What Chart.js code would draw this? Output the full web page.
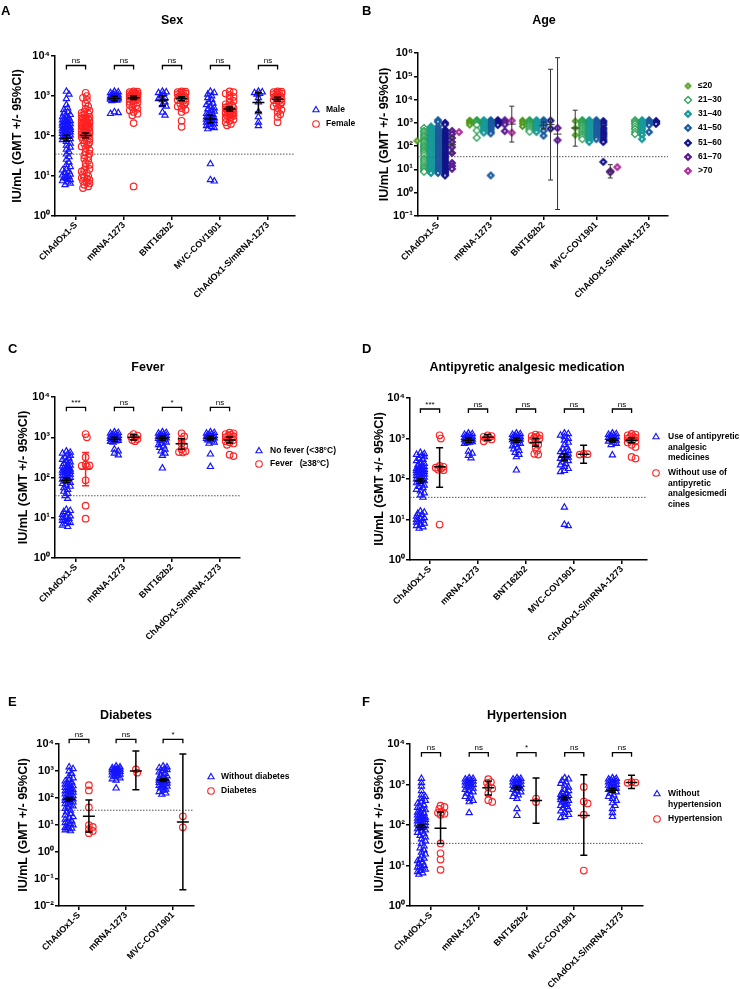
<!DOCTYPE html>
<html><head><meta charset="utf-8">
<script src="https://cdn.jsdelivr.net/npm/chart.js@4.4.1/dist/chart.umd.min.js"></script>
<style>
html,body{margin:0;padding:0;background:#fff;}
#wrap{position:relative;width:740px;height:989px;overflow:hidden;background:#fff;}
canvas{position:absolute;}
.lt{position:absolute;font:bold 13px 'Liberation Sans',Arial,sans-serif;color:#000;line-height:13px;}
</style></head><body><div id="wrap">
<canvas id="cA" width="370" height="300" style="left:0;top:0"></canvas>
<canvas id="cB" width="370" height="300" style="left:370px;top:0"></canvas>
<canvas id="cC" width="370" height="340" style="left:0;top:300px"></canvas>
<canvas id="cD" width="370" height="340" style="left:370px;top:300px"></canvas>
<canvas id="cE" width="370" height="349" style="left:0;top:640px"></canvas>
<canvas id="cF" width="370" height="349" style="left:370px;top:640px"></canvas>
<div class="lt" style="left:1px;top:4px">A</div>
<div class="lt" style="left:362px;top:4px">B</div>
<div class="lt" style="left:8px;top:342px">C</div>
<div class="lt" style="left:362px;top:342px">D</div>
<div class="lt" style="left:8px;top:695px">E</div>
<div class="lt" style="left:362px;top:695px">F</div>
</div>
<script>
// ---------------- DATA ----------------
const vaccines = ['ChAdOx1-S','mRNA-1273','BNT162b2','MVC-COV1901','ChAdOx1-S/mRNA-1273'];
const vaccinesFever = ['ChAdOx1-S','mRNA-1273','BNT162b2','ChAdOx1-S/mRNA-1273'];
const vaccinesDiabetes = ['ChAdOx1-S','mRNA-1273','MVC-COV1901'];
const threshold = 35.2;

// A: Sex
const sexLabels = ['Male','Female'];
const maleIU = [
 [1300,1100,850,600,500,450,400,370,340,320,300,280,260,250,240,230,220,210,200,195,190,185,180,175,170,165,160,155,150,145,140,135,130,125,120,115,110,105,100,95,90,85,80,72,65,58,52,46,40,35,30,26,22,19,17,15,14,13,12,11,10.5,10,9.5,9,8.5,8,7.5,7,6.5,6],
 [1300,1250,1200,1150,1100,1050,1000,980,950,920,900,880,860,840,820,800,780,760,400,380,360],
 [1300,1250,1200,1150,1000,900,850,800,700,600,550,390,330],
 [1300,1200,1100,1000,900,800,700,650,600,550,500,470,440,410,380,360,340,320,300,290,280,270,260,250,240,230,220,210,200,190,180,170,160,150,20,8,7.4],
 [1300,1250,1200,1150,1100,900,700,400,300,220,180]
];
const maleGMT = [[88,75,105],[860,750,980],[800,570,1000],[265,215,330],[690,390,1200]];
const femaleIU = [
 [1200,1000,900,800,650,550,480,430,400,380,360,340,320,300,290,280,270,260,250,240,230,220,215,210,205,200,195,190,185,180,175,170,165,160,155,150,145,140,135,130,125,120,115,110,105,100,95,90,85,80,75,70,65,60,55,50,45,40,36,33,30,27,24,21,19,17,15,14,13,12,11,10,9.5,9,8.5,8,7.5,7,6.5,6,5.5,5],
 [1300,1280,1250,1200,1180,1150,1120,1100,1080,1050,1020,1000,980,950,920,900,870,840,800,760,720,680,640,600,560,520,480,440,400,360,330,210,5.5],
 [1300,1280,1250,1220,1200,1150,1100,1050,1000,950,900,850,800,750,700,650,600,550,500,450,400,240,170],
 [1300,1250,1150,1050,950,850,750,680,620,580,550,520,500,480,460,440,420,400,390,380,370,360,350,340,330,320,300,280,260,240,220,200,185],
 [1300,1280,1250,1220,1200,1150,1100,1050,1000,950,900,850,800,750,700,650,600,550,500,450,400,350,300,220]
];
const femaleGMT = [[103,90,118],[910,820,1000],[860,760,960],[470,420,530],[830,740,930]];
const sigSex = ['ns','ns','ns','ns','ns'];

// B: Age
const ageGroups = ['≤20','21–30','31–40','41–50','51–60','61–70','>70'];
const ageIU = [
 [[250,220,200,190,180,170],[1300,1200,1100,1000,900,800],[1300,1100,900,700],[1200,600,300],[]],
 [[600,450,380,300,250,200,170,150,120,100,85,70,60,50,40,30,25,20,16,13,11,9,8],[1300,1200,1100,1000,900,800,470,230],[1300,1200,1100,1000,900,800,700,600,500,420],[1300,1200,1100,1000,900,800,700,600,500,420,350,300,250,200],[1300,1100,900,700,550,420,330]],
 [[700,600,500,420,350,300,260,220,190,160,140,120,100,85,70,60,50,40,33,28,24,20,17,15,13,11,9.5,8.5,7.5,7],[1300,1200,1100,1000,900,800,700,600,500,420,380],[1300,1200,1100,1000,900,800,700,600,500,400],[1300,1200,1100,1000,900,800,700,600,500,420,350,300,250,200,170,150],[1300,1200,1100,1000,900,800,700,600,500,400,300,200]],
 [[1300,1100,700,550,450,380,320,270,230,200,170,150,130,110,95,80,70,60,50,40,35,30,25,20,17,15,13,11,10,9,8,7],[1300,1200,1100,1000,900,800,700,600,500,400,350,5.5],[1300,1200,1000,900,700,450,280],[1300,1200,1100,1000,900,800,700,600,500,420,350,300,250,200],[1300,1200,1100,1000,900,800,400]],
 [[1000,850,500,420,350,300,260,220,190,160,140,120,100,85,70,60,50,42,35,30,25,21,18,15,13,11,10,9,8,7,6,5.5],[1300,1200,1100,1000,900,800],[1250,560],[1200,1000,800,600,500,400,350,300,250,200,170,150,21],[1200,1100,1000,900]],
 [[450,330,225,150,90,51,19,14,10.5],[1300,1100,850,440],[600,180],[8.5,7.5],[]],
 [[400],[1250,380],[],[12.5],[]]
];
const ageGMT = [
 [null,null,null,[600,100,3500],null],
 [null,null,null,null,null],
 [null,null,null,null,null],
 [null,null,[780,560,1100],null,null],
 [null,null,[840,3.5,200000],null,null],
 [[115,50,260],null,[330,0.19,630000],[8,4.3,16],null],
 [null,[880,150,5200],null,null,null]
];

// C: Fever
const feverLabels = ['No fever (<38°C)','Fever   (≥38°C)'];
const noFeverIU = [
 [450,420,400,380,350,320,300,280,260,240,220,210,200,190,180,175,170,165,160,155,150,145,140,135,130,125,120,115,110,105,100,95,90,85,80,75,70,65,60,55,50,45,40,35,30,16,15,14,13,12,11,10.5,10,9.5,9,8.5,8,7.5,7,6.5,6],
 [1350,1300,1250,1200,1150,1100,1050,1000,980,950,920,900,880,850,820,800,780,750,500,450,400,360],
 [1350,1300,1250,1200,1150,1100,1050,1000,980,950,920,900,880,850,800,750,700,650,600,550,500,450,400,350,170],
 [1350,1300,1250,1200,1150,1100,1050,1000,980,950,920,900,880,850,800,750,700,380,185]
];
const noFeverGMT = [[86,75,98],[890,780,1000],[950,840,1070],[950,850,1060]];
const feverIU = [[1200,1000,320,210,200,195,190,85,20,9.5],[1200,1100,1050,1000,900,850,800],[1250,1050,900,700,600,500,450,430,420],[1300,1250,1200,1150,1100,1050,1000,950,900,850,800,750,700,650,370,340]];
const feverGMT = [[160,62,420],[1000,850,1150],[690,500,920],[860,720,1010]];
const sigFever = ['***','ns','*','ns'];

// D: Antipyretic analgesic medication
const medLabels = ['Use of antipyretic analgesic medicines','Without use of antipyretic analgesicmedicines'];
const medLegendLines = [['Use of antipyretic','analgesic','medicines'],['Without use of','antipyretic','analgesicmedi','cines']];
const useMedIU = [
 [450,420,400,380,350,320,300,280,260,240,220,210,200,190,180,175,170,165,160,155,150,145,140,135,130,125,120,115,110,105,100,95,90,85,80,75,70,65,60,55,50,45,40,35,16,15,14,13,12,11,10.5,10,9.5,9,8.5,8,7.5,7,6.5,6],
 [1350,1300,1250,1200,1150,1100,1050,1000,980,950,920,900,880,850,820,800,780,750,480,430,380,330],
 [1350,1300,1250,1200,1150,1100,1050,1000,980,950,920,900,880,850,800,750,700,650,600,550,500,450,400,350,165],
 [1350,1300,1200,1100,1000,900,800,700,600,550,500,470,440,410,380,360,340,320,300,280,260,240,220,200,180,160,150,20,7.5,7],
 [1350,1300,1250,1200,1150,1100,1050,1000,950,900,850,800,750,700,390]
];
const useMedGMT = [[89,78,102],[910,800,1030],[910,810,1020],[350,290,420],[910,820,1000]];
const noMedIU = [[1200,1000,210,200,190,180,170,165,7.5],[1200,1150,1100,1050,1000,950,850],[1250,1200,1150,1100,1050,1000,900,800,700,600,500,420,400],[420,410,400],[1300,1250,1200,1150,1100,1050,1000,950,900,850,800,700,620,350,320]];
const noMedGMT = [[200,63,590],[1080,900,1250],[800,640,1000],[410,245,680],[910,790,1040]];
const sigMed = ['***','ns','ns','ns','ns'];

// E: Diabetes
const diabLabels = ['Without diabetes','Diabetes'];
const noDiabIU = [
 [1400,1200,1000,800,650,550,480,420,380,350,320,300,280,260,240,220,200,190,180,170,160,150,140,130,120,110,100,95,90,85,80,75,70,65,60,55,50,45,40,35,30,26,23,20,18,16,14,13,12,11,10,9,8,7.5,7,6.5,6],
 [1500,1400,1300,1250,1200,1150,1100,1050,1000,950,900,850,800,750,700,650,600,550,500,450,230],
 [1500,1400,1300,1200,1100,1000,900,800,700,650,600,550,500,470,450,430,410,390,370,350,330,310,290,270,250,230,210,190,170,150,135]
];
const noDiabGMT = [[90,78,104],null,[460,410,520]];
const diabIU = [[300,190,45,10,8.5,7,6,5],[1150,870],[21,8.2]];
const diabGMT = [[21,5.5,85],[1000,200,5500],[13,0.04,4300]];
const sigDiab = ['ns','ns','*'];

// F: Hypertension
const hypLabels = ['Without hypertension','Hypertension'];
const hypLegendLines = [['Without','hypertension'],['Hypertension']];
const noHypIU = [
 [1400,1100,900,700,550,500,450,400,370,340,310,290,270,250,235,220,205,195,185,175,165,155,150,145,140,135,130,125,120,115,110,105,100,95,90,85,80,75,70,65,60,55,50,45,40,35,30,27,24,21,19,17,15,14,13,12,11,10,9.5,9,8.5,8,7.5,7,6.5,6],
 [1450,1400,1350,1300,1250,1200,1150,1100,1050,1000,950,900,850,800,750,700,650,600,550,500,450,400,370,200],
 [1450,1400,1350,1300,1250,1200,1150,1100,1050,1000,950,900,850,800,750,700,650,600,550,500,450,250,170],
 [1450,1350,1250,1150,1050,950,850,750,700,650,600,560,530,500,480,460,440,420,400,380,360,340,320,300,280,260,240,220,200,180,160,150],
 [1450,1400,1350,1300,1250,1200,1150,1100,1050,1000,950,900,850,800,750,700,650,600,550,500,450,400,350,300,250,200,160]
];
const noHypGMT = [[88,77,100],null,[830,740,930],[470,420,530],[720,640,810]];
const hypIU = [[300,280,250,210,200,190,180,35,20,14,7.8],[1350,1150,1100,870,800,600,410,370],[450,370],[870,380,340,180,7.5],[1150,1120,1100]];
const hypGMT = [[83,35,210],[830,550,1200],[400,110,1450],[172,18,1750],[1120,800,1700]];
const sigHyp = ['ns','ns','*','ns','ns'];

// ---------------- STYLE / HELPERS ----------------
const FONT = "'Liberation Sans', Arial, Helvetica, sans-serif";
Chart.defaults.font.family = FONT;
Chart.defaults.color = '#000';
const BLUE = '#1414ff', RED = '#ff2222';
const ageColors = ['#4f9a1c','#1c9a4a','#1a9a9a','#1d5b9e','#14148a','#5a1c90','#b0309c'];

function supPow(v){
  const e = Math.round(Math.log10(v));
  const m = {'-':'⁻','0':'⁰','1':'¹','2':'²','3':'³','4':'⁴','5':'⁵','6':'⁶','7':'⁷','8':'⁸','9':'⁹'};
  return '10' + String(e).split('').map(c => m[c]).join('');
}
function diamondImg(color, hollow, r){
  const s = 2*r + 3, c = document.createElement('canvas');
  c.width = s; c.height = s;
  const g = c.getContext('2d'), m = s/2;
  g.beginPath(); g.moveTo(m, m-r); g.lineTo(m+r, m); g.lineTo(m, m+r); g.lineTo(m-r, m); g.closePath();
  g.fillStyle = hollow ? '#fff' : color; g.fill();
  g.lineWidth = 1.2; g.strokeStyle = color; g.stroke();
  if (!hollow) { g.beginPath(); g.arc(m, m, r*0.3, 0, Math.PI*2); g.fillStyle = 'rgba(255,255,255,0.8)'; g.fill(); }
  return c;
}
function drawMarker(ctx, s, x, y){
  ctx.save();
  if (typeof s.style === 'object') { ctx.drawImage(s.style, x - s.style.width/2, y - s.style.height/2); ctx.restore(); return; }
  ctx.strokeStyle = s.color; ctx.lineWidth = 1.1;
  ctx.beginPath();
  const r = s.radius;
  if (s.style === 'circle') ctx.arc(x, y, r, 0, Math.PI*2);
  else { ctx.moveTo(x, y - r); ctx.lineTo(x + r*0.866, y + r/2); ctx.lineTo(x - r*0.866, y + r/2); ctx.closePath(); }
  ctx.stroke(); ctx.restore();
}

function decoPlugin(p){
  return {
    id: 'deco',
    beforeDatasetsDraw(chart){
      const {ctx, chartArea: a, scales: {y}} = chart;
      const py = y.getPixelForValue(threshold);
      ctx.save(); ctx.strokeStyle = '#555'; ctx.lineWidth = 1; ctx.setLineDash([1.5, 1.5]);
      ctx.beginPath(); ctx.moveTo(a.left, py); ctx.lineTo(a.right, py); ctx.stroke(); ctx.restore();
    },
    afterDatasetsDraw(chart){
      const {ctx, chartArea: a, scales: {x, y}} = chart;
      ctx.save();
      p.series.forEach(s => {
        (s.gmt || []).forEach((g, ci) => {
          if (!g) return;
          const bx = x.getPixelForValue(ci + 1 + s.offset);
          const ym = y.getPixelForValue(g[0]), yl = y.getPixelForValue(g[1]), yh = y.getPixelForValue(g[2]);
          ctx.strokeStyle = (s.barColors && s.barColors[ci]) || p.bar.color;
          ctx.lineWidth = p.bar.w;
          ctx.beginPath();
          ctx.moveTo(bx - p.bar.mean, ym); ctx.lineTo(bx + p.bar.mean, ym);
          ctx.moveTo(bx, yl); ctx.lineTo(bx, yh);
          ctx.moveTo(bx - p.bar.cap, yl); ctx.lineTo(bx + p.bar.cap, yl);
          ctx.moveTo(bx - p.bar.cap, yh); ctx.lineTo(bx + p.bar.cap, yh);
          ctx.stroke();
        });
      });
      if (p.sig) {
        p.sig.forEach((t, ci) => {
          const x1 = x.getPixelForValue(ci + 1 - p.brHalf), x2 = x.getPixelForValue(ci + 1 + p.brHalf);
          const yb = a.top + p.brOff;
          ctx.strokeStyle = '#000'; ctx.lineWidth = 1.3;
          ctx.beginPath(); ctx.moveTo(x1, yb + 4); ctx.lineTo(x1, yb); ctx.lineTo(x2, yb); ctx.lineTo(x2, yb + 4); ctx.stroke();
          ctx.fillStyle = '#000'; ctx.font = '8px ' + FONT; ctx.textAlign = 'center'; ctx.textBaseline = 'alphabetic';
          ctx.fillText(t, (x1 + x2)/2, yb - 2.5);
        });
      }
      ctx.restore();
    },
    afterDraw(chart){
      const ctx = chart.ctx;
      ctx.save();
      ctx.fillStyle = '#000';
      ctx.font = 'bold 12.5px ' + FONT; ctx.textAlign = 'center'; ctx.textBaseline = 'middle';
      ctx.fillText(p.title, p.titleX, p.titleY);
      const L = p.legend;
      ctx.font = 'bold ' + L.size + 'px ' + FONT; ctx.textAlign = 'left'; ctx.textBaseline = 'middle';
      p.series.forEach((s, i) => {
        const y0 = L.ys[i];
        drawMarker(ctx, s, L.mx, y0);
        ctx.fillStyle = '#000';
        (s.lines || [s.label]).forEach((ln, k) => ctx.fillText(ln, L.tx, y0 + k*L.lineH));
      });
      ctx.restore();
    }
  };
}

function swarm(chart, p){
  if (!p.swarm) return;
  const xs = chart.scales.x, ys = chart.scales.y;
  const ppu = xs.getPixelForValue(2) - xs.getPixelForValue(1);
  chart.data.datasets.forEach(ds => {
    const groups = {};
    ds.data.forEach(pt => { (groups[pt.c] = groups[pt.c] || []).push(pt); });
    Object.values(groups).forEach(pts => {
      pts.sort((a, b) => b.y - a.y);
      const placed = [];
      pts.forEach(pt => {
        const py = ys.getPixelForValue(pt.y);
        let best = 0, bestD = -1;
        for (let k = 0; k <= p.swarm.steps*2; k++) {
          const off = (k % 2 ? 1 : -1) * Math.ceil(k/2) * p.swarm.step;
          let mind = Infinity;
          placed.forEach(q => { const d = Math.hypot(q.ox - off, q.py - py); if (d < mind) mind = d; });
          if (mind >= p.swarm.minDist) { best = off; break; }
          if (mind > bestD) { bestD = mind; best = off; }
        }
        placed.push({ox: best, py});
        pt.x = pt.c + best/ppu;
      });
    });
  });
  chart.update('none');
}

function buildPanel(p){
  const el = document.getElementById(p.id);
  const W = el.width, H = el.height;
  const datasets = p.series.map(s => {
    const data = [];
    s.values.forEach((arr, ci) => (arr || []).forEach(v => { const c = ci + 1 + s.offset; data.push({x: c, y: v, c: c}); }));
    return {label: s.label, data, clip: false, pointStyle: s.style, pointRadius: s.radius, pointHoverRadius: s.radius,
      pointBorderWidth: 1.15, pointBorderColor: s.color, pointBackgroundColor: 'rgba(0,0,0,0)'};
  });
  const grid = {drawOnChartArea: false, drawTicks: true, tickLength: 4, color: '#000', lineWidth: 1.5};
  const border = {color: '#000', width: 1.5};
  const chart = new Chart(el, {
    type: 'scatter',
    data: {datasets},
    options: {
      responsive: false, maintainAspectRatio: false, animation: false, events: [],
      layout: {padding: {left: 0, right: W - p.plot.r, top: p.plot.t, bottom: 0}},
      scales: {
        x: {type: 'linear', min: p.xMin, max: p.xMax,
          afterFit: s => { s.height = H - p.plot.b; },
          afterBuildTicks: s => { s.ticks = p.cats.map((c, i) => ({value: i + 1})); },
          ticks: {autoSkip: false, minRotation: 45, maxRotation: 45, padding: 0, color: '#000',
            font: {size: 9, weight: 'bold'}, callback: v => p.cats[Math.round(v) - 1]},
          grid, border},
        y: {type: 'logarithmic', min: p.yMin, max: p.yMax,
          afterFit: s => { s.width = p.plot.l; },
          afterBuildTicks: s => {
            const t = [];
            for (let e = Math.round(Math.log10(p.yMin)); e <= Math.round(Math.log10(p.yMax)); e++) t.push({value: Math.pow(10, e)});
            s.ticks = t;
          },
          ticks: {autoSkip: false, padding: 1, color: '#000', font: {size: 11, weight: 'bold'}, callback: v => supPow(v)},
          grid, border,
          title: {display: true, text: 'IU/mL (GMT +/- 95%CI)', color: '#000', font: {size: 12.5, weight: 'bold'},
            padding: {top: p.titlePad, bottom: 0}}}
      },
      plugins: {legend: {display: false}, tooltip: {enabled: false}, title: {display: false}}
    },
    plugins: [decoPlugin(p)]
  });
  swarm(chart, p);
  return chart;
}

const blueS = (label, values, gmt, off) => ({label, values, gmt, offset: off, style: 'triangle', radius: 3.6, color: BLUE});
const redS = (label, values, gmt, off) => ({label, values, gmt, offset: off, style: 'circle', radius: 3.3, color: RED});
const swarmStd = {step: 1.3, steps: 3, minDist: 3.4};
const barStd = {w: 1.5, mean: 6, cap: 3.5, color: '#000'};

buildPanel({id: 'cA', cats: vaccines, plot: {l: 55, t: 56, r: 295, b: 216}, xMin: 0.5625, xMax: 5.5625, yMin: 1, yMax: 1e4,
  titlePad: 10.5, title: 'Sex', titleX: 172, titleY: 21, sig: sigSex, brOff: 9.5, brHalf: 0.2,
  legend: {mx: 316, tx: 326, ys: [110, 124], lineH: 10, size: 8.5},
  series: [blueS(sexLabels[0], maleIU, maleGMT, -0.2), redS(sexLabels[1], femaleIU, femaleGMT, 0.2)],
  swarm: swarmStd, bar: barStd});

buildPanel({id: 'cB', cats: vaccines, plot: {l: 48, t: 53, r: 298, b: 216}, xMin: 0.621, xMax: 5.36, yMin: 0.1, yMax: 1e6,
  titlePad: 7.5, title: 'Age', titleX: 174, titleY: 21, sig: null,
  legend: {mx: 318, tx: 328, ys: [86, 100, 114, 128, 143, 157, 171], lineH: 10, size: 8.5},
  series: ageGroups.map((g, k) => ({label: g, values: ageIU[k], gmt: ageGMT[k], offset: (k - 3)*0.133,
    style: diamondImg(ageColors[k], k === 1, k === 0 ? 3 : 3.5), radius: 3.5, color: ageColors[k]})),
  swarm: null, bar: {w: 1, mean: 4, cap: 2.5, color: '#333'}});

const feverSer = redS(feverLabels[1], feverIU, feverGMT, 0.2); feverSer.barColors = {0: RED};
buildPanel({id: 'cC', cats: vaccinesFever, plot: {l: 55, t: 97, r: 240, b: 258}, xMin: 0.5625, xMax: 4.417, yMin: 1, yMax: 1e4,
  titlePad: 16.5, title: 'Fever', titleX: 148, titleY: 68, sig: sigFever, brOff: 10.3, brHalf: 0.2,
  legend: {mx: 259, tx: 270, ys: [151, 164], lineH: 10, size: 8.5},
  series: [blueS(feverLabels[0], noFeverIU, noFeverGMT, -0.2), feverSer],
  swarm: swarmStd, bar: barStd});

const useSer = blueS(medLabels[0], useMedIU, useMedGMT, -0.2); useSer.lines = medLegendLines[0];
const noUseSer = redS(medLabels[1], noMedIU, noMedGMT, 0.2); noUseSer.lines = medLegendLines[1];
buildPanel({id: 'cD', cats: vaccines, plot: {l: 40, t: 98, r: 277, b: 260}, xMin: 0.583, xMax: 5.521, yMin: 1, yMax: 1e4,
  titlePad: 2.5, title: 'Antipyretic analgesic medication', titleX: 157, titleY: 68, sig: sigMed, brOff: 11, brHalf: 0.2,
  legend: {mx: 286, tx: 298, ys: [137, 173], lineH: 10.4, size: 8.5},
  series: [useSer, noUseSer], swarm: swarmStd, bar: barStd});

buildPanel({id: 'cE', cats: vaccinesDiabetes, plot: {l: 59, t: 104, r: 194, b: 266}, xMin: 0.574, xMax: 3.447, yMin: 0.01, yMax: 1e4,
  titlePad: 16.5, title: 'Diabetes', titleX: 126, titleY: 76, sig: sigDiab, brOff: -4.7, brHalf: 0.21,
  legend: {mx: 211, tx: 221, ys: [137, 151], lineH: 10, size: 8.5},
  series: [blueS(diabLabels[0], noDiabIU, noDiabGMT, -0.21), redS(diabLabels[1], diabIU, diabGMT, 0.21)],
  swarm: swarmStd, bar: barStd});

const noHypSer = blueS(hypLabels[0], noHypIU, noHypGMT, -0.2); noHypSer.lines = hypLegendLines[0];
const hypSer = redS(hypLabels[1], hypIU, hypGMT, 0.2); hypSer.lines = hypLegendLines[1];
buildPanel({id: 'cF', cats: vaccines, plot: {l: 40, t: 104, r: 273, b: 266}, xMin: 0.56, xMax: 5.44, yMin: 1, yMax: 1e4,
  titlePad: 2.5, title: 'Hypertension', titleX: 157, titleY: 76, sig: sigHyp, brOff: 8.7, brHalf: 0.2,
  legend: {mx: 287, tx: 298, ys: [154, 179], lineH: 11, size: 8.5},
  series: [noHypSer, hypSer], swarm: swarmStd, bar: barStd});
</script>
</body></html>
